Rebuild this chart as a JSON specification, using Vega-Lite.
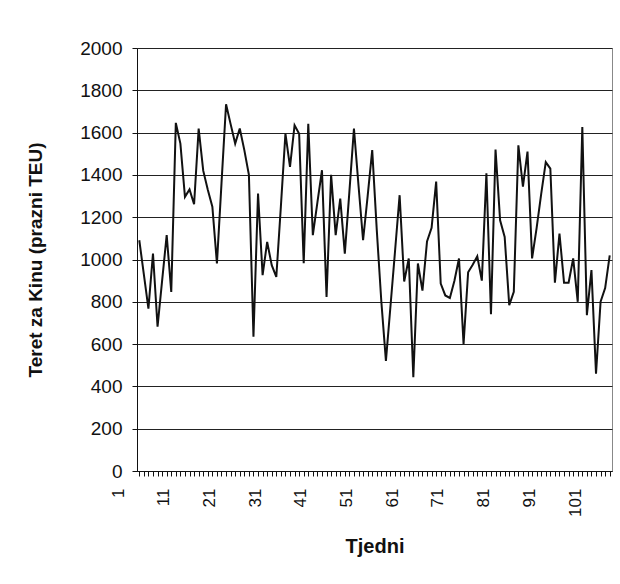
{
  "$schema": "https://vega.github.io/schema/vega-lite/v6.json",
  "width": 475,
  "height": 423,
  "autosize": {"type": "none"},
  "padding": {"left": 137, "top": 48, "right": 8, "bottom": 113},
  "background": "white",
  "config": {
    "view": {"stroke": "#888888", "strokeWidth": 1},
    "font": "Liberation Sans"
  },
  "data": {
    "values": [
      {"week": 1, "teu": 1091}, {"week": 2, "teu": 930}, {"week": 3, "teu": 768}, {"week": 4, "teu": 1028},
      {"week": 5, "teu": 682}, {"week": 6, "teu": 900}, {"week": 7, "teu": 1115}, {"week": 8, "teu": 847},
      {"week": 9, "teu": 1646}, {"week": 10, "teu": 1548}, {"week": 11, "teu": 1296}, {"week": 12, "teu": 1331},
      {"week": 13, "teu": 1261}, {"week": 14, "teu": 1619}, {"week": 15, "teu": 1420}, {"week": 16, "teu": 1330},
      {"week": 17, "teu": 1250}, {"week": 18, "teu": 981}, {"week": 19, "teu": 1360}, {"week": 20, "teu": 1734},
      {"week": 21, "teu": 1640}, {"week": 22, "teu": 1548}, {"week": 23, "teu": 1619}, {"week": 24, "teu": 1517},
      {"week": 25, "teu": 1400}, {"week": 26, "teu": 635}, {"week": 27, "teu": 1312}, {"week": 28, "teu": 926},
      {"week": 29, "teu": 1083}, {"week": 30, "teu": 973}, {"week": 31, "teu": 918}, {"week": 32, "teu": 1250},
      {"week": 33, "teu": 1595}, {"week": 34, "teu": 1438}, {"week": 35, "teu": 1635}, {"week": 36, "teu": 1595},
      {"week": 37, "teu": 982}, {"week": 38, "teu": 1642}, {"week": 39, "teu": 1115}, {"week": 40, "teu": 1270},
      {"week": 41, "teu": 1422}, {"week": 42, "teu": 823}, {"week": 43, "teu": 1400}, {"week": 44, "teu": 1115},
      {"week": 45, "teu": 1288}, {"week": 46, "teu": 1028}, {"week": 47, "teu": 1320}, {"week": 48, "teu": 1619},
      {"week": 49, "teu": 1350}, {"week": 50, "teu": 1091}, {"week": 51, "teu": 1300}, {"week": 52, "teu": 1517},
      {"week": 53, "teu": 1139}, {"week": 54, "teu": 800}, {"week": 55, "teu": 521}, {"week": 56, "teu": 780},
      {"week": 57, "teu": 1040}, {"week": 58, "teu": 1304}, {"week": 59, "teu": 896}, {"week": 60, "teu": 1005},
      {"week": 61, "teu": 443}, {"week": 62, "teu": 981}, {"week": 63, "teu": 853}, {"week": 64, "teu": 1085},
      {"week": 65, "teu": 1150}, {"week": 66, "teu": 1368}, {"week": 67, "teu": 886}, {"week": 68, "teu": 830},
      {"week": 69, "teu": 818}, {"week": 70, "teu": 900}, {"week": 71, "teu": 1005}, {"week": 72, "teu": 600},
      {"week": 73, "teu": 940}, {"week": 74, "teu": 975}, {"week": 75, "teu": 1015}, {"week": 76, "teu": 900},
      {"week": 77, "teu": 1408}, {"week": 78, "teu": 741}, {"week": 79, "teu": 1520}, {"week": 80, "teu": 1185},
      {"week": 81, "teu": 1107}, {"week": 82, "teu": 784}, {"week": 83, "teu": 847}, {"week": 84, "teu": 1540},
      {"week": 85, "teu": 1344}, {"week": 86, "teu": 1510}, {"week": 87, "teu": 1005}, {"week": 88, "teu": 1150},
      {"week": 89, "teu": 1310}, {"week": 90, "teu": 1460}, {"week": 91, "teu": 1430}, {"week": 92, "teu": 890},
      {"week": 93, "teu": 1123}, {"week": 94, "teu": 890}, {"week": 95, "teu": 890}, {"week": 96, "teu": 1005},
      {"week": 97, "teu": 800}, {"week": 98, "teu": 1626}, {"week": 99, "teu": 737}, {"week": 100, "teu": 950},
      {"week": 101, "teu": 460}, {"week": 102, "teu": 800}, {"week": 103, "teu": 865}, {"week": 104, "teu": 1020}
    ]
  },
  "mark": {"type": "line", "color": "#111111", "strokeWidth": 2, "strokeJoin": "miter"},
  "encoding": {
    "x": {
      "field": "week",
      "type": "quantitative",
      "scale": {"domain": [0.5, 104.5], "nice": false, "zero": false},
      "axis": {
        "title": "Tjedni",
        "titleFont": "Liberation Sans",
        "titleFontSize": 20,
        "titleFontWeight": "bold",
        "titleColor": "#111111",
        "titlePadding": 20,
        "values": [1,2,3,4,5,6,7,8,9,10,11,12,13,14,15,16,17,18,19,20,21,22,23,24,25,26,27,28,29,30,31,32,33,34,35,36,37,38,39,40,41,42,43,44,45,46,47,48,49,50,51,52,53,54,55,56,57,58,59,60,61,62,63,64,65,66,67,68,69,70,71,72,73,74,75,76,77,78,79,80,81,82,83,84,85,86,87,88,89,90,91,92,93,94,95,96,97,98,99,100,101,102,103,104],
        "labelExpr": "(datum.value - 1) % 10 == 0 ? datum.label : ''",
        "labelAngle": -90,
        "labelOffset": -21,
        "labelPadding": 12,
        "labelFontSize": 17,
        "labelColor": "#111111",
        "labelOverlap": false,
        "labelBound": false,
        "labelFlush": false,
        "grid": false,
        "domainColor": "#111111",
        "tickColor": "#111111",
        "tickSize": 5
      }
    },
    "y": {
      "field": "teu",
      "type": "quantitative",
      "scale": {"domain": [0, 2000], "nice": false},
      "axis": {
        "title": "Teret za Kinu (prazni TEU)",
        "titleFont": "Liberation Sans",
        "titleFontSize": 19,
        "titleFontWeight": "bold",
        "titleColor": "#111111",
        "titlePadding": 34,
        "values": [0,200,400,600,800,1000,1200,1400,1600,1800,2000],
        "format": "d",
        "labelFontSize": 19,
        "labelColor": "#111111",
        "labelPadding": 10,
        "grid": true,
        "gridColor": "#222222",
        "gridOpacity": 1,
        "gridWidth": 1,
        "domainColor": "#111111",
        "tickColor": "#111111",
        "tickSize": 5
      }
    }
  }
}
